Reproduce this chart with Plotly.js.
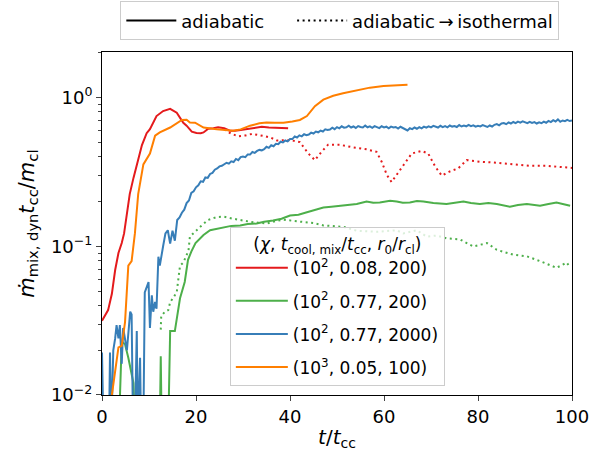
<!DOCTYPE html>
<html>
<head>
<meta charset="utf-8">
<script src="https://cdn.plot.ly/plotly-3.0.1.min.js"></script>
<style>html,body{margin:0;padding:0;background:#fff;}</style>
</head>
<body>
<div id="chart" style="width:608px;height:456px;"></div>
<script>
// ---- data ----
const seriesNames = ["(10<sup>2</sup>, 0.08, 200)", "(10<sup>2</sup>, 0.77, 200)", "(10<sup>2</sup>, 0.77, 2000)", "(10<sup>3</sup>, 0.05, 100)"];
const modeNames = ["adiabatic\u00a0\u00a0\u00a0\u00a0", "adiabatic\u2009\u2192\u2009isothermal"];

// red: chi=1e2, tcool=0.08, r0=200 (adiabatic)
const redX = [0, 1.3, 2.1, 2.8, 3.5, 4.2, 4.7, 5.9, 6.7, 8.5, 9.5, 10.2, 11.6, 13.0, 14.5, 15.9, 17.3, 18.0, 19.1, 20.1, 21.0, 21.6, 22.6, 23.7, 24.7, 26.0, 27.2, 28.3, 29.5, 31.1, 32.5, 34.0, 35.5, 36.8, 38.0, 39.6];
const redY = [0.0316, 0.0372, 0.0479, 0.0692, 0.090, 0.105, 0.122, 0.224, 0.288, 0.479, 0.575, 0.612, 0.75, 0.81, 0.838, 0.789, 0.676, 0.646, 0.589, 0.577, 0.575, 0.582, 0.617, 0.62, 0.63, 0.62, 0.597, 0.597, 0.605, 0.617, 0.625, 0.635, 0.628, 0.625, 0.62, 0.62];
// red: adiabatic -> isothermal
const redIsoX = [26.0, 26.9, 27.5, 29.0, 30.5, 31.9, 33.3, 34.7, 36.0, 37.2, 38.8, 40.4, 42.1, 43.9, 45.3, 46.7, 48.1, 50.6, 53.5, 56.3, 58.4, 59.5, 60.6, 61.6, 62.7, 64.1, 65.9, 68.0, 69.4, 70.9, 72.3, 74.0, 75.8, 77.6, 80.4, 84.0, 87.5, 91.1, 94.6, 98.9, 100];
const redIsoY = [0.61, 0.582, 0.57, 0.548, 0.555, 0.569, 0.56, 0.548, 0.535, 0.514, 0.516, 0.514, 0.501, 0.42, 0.379, 0.431, 0.481, 0.481, 0.461, 0.448, 0.431, 0.37, 0.302, 0.27, 0.302, 0.352, 0.42, 0.437, 0.42, 0.343, 0.298, 0.318, 0.334, 0.379, 0.37, 0.364, 0.356, 0.347, 0.347, 0.337, 0.336];

// green: chi=1e2, tcool=0.77, r0=200 (adiabatic)
const greenX = [3.6, 4.2, 4.9, 5.6, 6.7, 7.0, 12.3, 12.5, 12.7, 14.1, 14.5, 15.5, 16.6, 17.6, 18.3, 19.0, 19.9, 21.6, 23.0, 24.5, 25.8, 27.5, 29.4, 31.0, 32.9, 34.5, 36.4, 38.2, 40.0, 41.8, 43.6, 45.5, 47.1, 48.8, 50.6, 52.4, 54.2, 56.3, 57.7, 59.1, 61.3, 62.7, 64.0, 65.5, 67.0, 68.4, 70.5, 73.3, 75.0, 76.9, 78.5, 80.4, 82.2, 84.0, 86.8, 88.5, 90.4, 93.2, 95.0, 96.7, 99.6];
const greenY = [0.006, 0.0229, 0.0219, 0.0178, 0.012, 0.006, 0.006, 0.0182, 0.006, 0.006, 0.0269, 0.0269, 0.0447, 0.0575, 0.081, 0.092, 0.105, 0.119, 0.128, 0.131, 0.135, 0.137, 0.138, 0.141, 0.142, 0.146, 0.149, 0.153, 0.161, 0.163, 0.169, 0.176, 0.182, 0.184, 0.187, 0.19, 0.192, 0.2, 0.196, 0.197, 0.202, 0.2, 0.196, 0.197, 0.201, 0.2, 0.195, 0.192, 0.196, 0.2, 0.195, 0.192, 0.195, 0.192, 0.184, 0.189, 0.192, 0.187, 0.192, 0.197, 0.187];
// green: adiabatic -> isothermal
const greenIsoX = [12.5, 12.6, 13.4, 14.1, 14.5, 15.9, 16.6, 17.3, 18.4, 18.7, 20.9, 22.5, 24.4, 26.0, 27.9, 29.8, 31.5, 33.2, 35.0, 36.8, 38.6, 40.7, 42.8, 45.0, 47.1, 49.2, 51.3, 54.2, 56.3, 58.4, 61.3, 62.7, 64.1, 67.0, 69.1, 71.2, 73.3, 76.2, 77.6, 79.0, 81.9, 84.0, 87.5, 90.4, 93.2, 96.7, 98.9, 99.6];
const greenIsoY = [0.0275, 0.034, 0.0363, 0.0372, 0.042, 0.049, 0.074, 0.0776, 0.0933, 0.116, 0.135, 0.15, 0.157, 0.158, 0.153, 0.149, 0.146, 0.144, 0.142, 0.147, 0.151, 0.148, 0.146, 0.143, 0.138, 0.137, 0.135, 0.127, 0.126, 0.125, 0.127, 0.128, 0.122, 0.128, 0.116, 0.118, 0.113, 0.111, 0.105, 0.0995, 0.105, 0.0946, 0.0877, 0.0855, 0.0794, 0.0716, 0.0776, 0.0716];

// blue: chi=1e2, tcool=0.77, r0=2000 (adiabatic)
const blueX = [0, 0.3, 1.5, 1.7, 2.0, 2.4, 2.8, 3.1, 3.5, 3.8, 4.2, 4.5, 5.3, 6.0, 6.3, 6.6, 7.0, 7.4, 7.6, 8.1, 8.3, 8.8, 9.1, 9.9, 10.2, 10.6, 10.9, 11.3, 11.6, 12.0, 12.3, 12.7,
  13.0, 13.5, 14.0, 14.5, 15.0, 15.5, 16.0, 16.5, 17.0, 17.5, 18.0, 18.5, 19.0, 19.5, 20.0, 20.5, 21.0, 21.5, 22.0, 22.5, 23.0, 23.5, 24.0, 24.5, 25.0, 25.5, 26.0, 26.5, 27.0, 27.5, 28.0, 28.5, 29.0, 29.5, 30.0, 30.5, 31.0, 31.5, 32.0, 32.5, 33.0, 33.5, 34.0, 34.5, 35.0, 35.5, 36.0, 36.5, 37.0, 37.5, 38.0, 38.5, 39.0, 39.5, 40.0,
  40.5, 41.0, 41.5, 42.0, 42.5, 43.0, 43.5, 44.0, 44.5, 45.0, 45.5, 46.0, 46.5, 47.0, 47.5, 48.0, 48.5, 49.0, 49.5, 50.0, 50.5, 51.0, 51.5, 52.0, 52.5, 53.0, 53.5, 54.0, 54.5, 55.0, 55.5, 56.0, 56.5, 57.0, 57.5, 58.0, 58.5, 59.0, 59.5, 60.0, 60.5, 61.0, 61.5, 62.0, 62.5, 63.0, 63.5, 64.0, 64.5, 65.0, 65.5, 66.0, 66.5, 67.0, 67.5, 68.0, 68.5, 69.0, 69.5, 70.0,
  70.5, 71.0, 71.5, 72.0, 72.5, 73.0, 73.5, 74.0, 74.5, 75.0, 75.5, 76.0, 76.5, 77.0, 77.5, 78.0, 78.5, 79.0, 79.5, 80.0, 80.5, 81.0, 81.5, 82.0, 82.5, 83.0, 83.5, 84.0, 84.5, 85.0, 85.5, 86.0, 86.5, 87.0, 87.5, 88.0, 88.5, 89.0, 89.5, 90.0, 90.5, 91.0, 91.5, 92.0, 92.5, 93.0, 93.5, 94.0, 94.5, 95.0, 95.5, 96.0, 96.5, 97.0, 97.5, 98.0, 98.5, 99.0, 99.5, 100.0];
const blueY = [0.0193, 0.006, 0.006, 0.0193, 0.006, 0.02, 0.024, 0.0295, 0.024, 0.0295, 0.0162, 0.0282, 0.02, 0.0363, 0.0347, 0.006, 0.006, 0.0269, 0.006, 0.0178, 0.006, 0.006, 0.049, 0.0575, 0.0282, 0.0468, 0.0363, 0.0422, 0.038, 0.085, 0.074, 0.09,
  0.100, 0.122, 0.128, 0.104, 0.127, 0.109, 0.150, 0.156, 0.168, 0.176, 0.195, 0.203, 0.228, 0.234, 0.249, 0.257, 0.273, 0.271, 0.290, 0.288, 0.306, 0.311, 0.327, 0.333, 0.344, 0.347, 0.355, 0.364, 0.359, 0.372, 0.368, 0.386, 0.379, 0.397, 0.401, 0.397, 0.414, 0.413, 0.430, 0.424, 0.437, 0.444, 0.441, 0.449, 0.466, 0.458, 0.477, 0.470, 0.488, 0.485, 0.504, 0.498, 0.514, 0.507, 0.526, 0.525, 0.547,
  0.538, 0.556, 0.548, 0.566, 0.558, 0.563, 0.580, 0.572, 0.590, 0.583, 0.598, 0.590, 0.611, 0.604, 0.609, 0.626, 0.612, 0.632, 0.620, 0.640, 0.626, 0.630, 0.645, 0.628, 0.638, 0.624, 0.642, 0.633, 0.628, 0.647, 0.630, 0.639, 0.625, 0.641, 0.634, 0.622, 0.640, 0.629, 0.636, 0.620, 0.637, 0.628, 0.633, 0.618, 0.635, 0.624, 0.612, 0.600, 0.621, 0.612, 0.628, 0.616, 0.632, 0.620, 0.637, 0.626, 0.640, 0.630, 0.644, 0.633,
  0.628, 0.645, 0.632, 0.641, 0.630, 0.648, 0.637, 0.643, 0.633, 0.652, 0.638, 0.647, 0.640, 0.655, 0.642, 0.650, 0.636, 0.645, 0.639, 0.652, 0.641, 0.633, 0.648, 0.638, 0.655, 0.662, 0.650, 0.668, 0.673, 0.661, 0.679, 0.668, 0.684, 0.672, 0.688, 0.678, 0.690, 0.681, 0.672, 0.686, 0.675, 0.683, 0.668, 0.680, 0.671, 0.688, 0.676, 0.695, 0.683, 0.704, 0.690, 0.712, 0.686, 0.700, 0.692, 0.706, 0.694, 0.701, 0.688, 0.697];

// orange: chi=1e3, tcool=0.05, r0=100 (adiabatic)
const orangeX = [2.1, 2.8, 3.5, 4.2, 4.9, 5.6, 6.3, 7.0, 7.7, 8.8, 10.2, 11.3, 12.3, 14.5, 16.2, 17.0, 18.0, 18.7, 19.8, 21.6, 24.4, 26.5, 27.9, 29.5, 31.5, 33.5, 35.0, 36.8, 38.6, 40.5, 42.1, 43.6, 45.3, 47.1, 49.2, 51.3, 54.2, 57.0, 59.9, 62.7, 65.0];
const orangeY = [0.01, 0.0145, 0.0209, 0.0214, 0.0309, 0.0741, 0.0794, 0.122, 0.224, 0.355, 0.42, 0.553, 0.582, 0.628, 0.676, 0.706, 0.708, 0.678, 0.676, 0.628, 0.612, 0.60, 0.597, 0.61, 0.646, 0.67, 0.678, 0.676, 0.676, 0.69, 0.706, 0.75, 0.873, 0.966, 1.026, 1.067, 1.112, 1.164, 1.194, 1.213, 1.219];

// axis ticks
const yTickVals = [0.01, 0.1, 1];
const yTickText = ["10<sup>\u22122</sup>", "10<sup>\u22121</sup>", "10<sup>0</sup>"];
const yMinorVals = [0.02, 0.03, 0.04, 0.05, 0.06, 0.07, 0.08, 0.09, 0.2, 0.3, 0.4, 0.5, 0.6, 0.7, 0.8, 0.9, 2];
const xTickVals = [0, 20, 40, 60, 80, 100];

// ---- styles ----
const C = {red: "#e41a1c", green: "#4daf4a", blue: "#377eb8", orange: "#ff7f00"};
const LW = 2;
const DOT = "2px,3.5px";
const FONT = "DejaVu Sans, Liberation Sans, sans-serif";

function solid(x, y, color, name, grp) {
  return {x: x, y: y, type: "scatter", mode: "lines", name: name, legend: "legend2", legendgroup: grp,
          line: {color: color, width: LW}, hoverinfo: "skip"};
}
function dotted(x, y, color) {
  return {x: x, y: y, type: "scatter", mode: "lines", showlegend: false,
          line: {color: color, width: LW, dash: DOT}, hoverinfo: "skip"};
}

const traces = [
  solid(redX, redY, C.red, seriesNames[0], "g1"),
  dotted(redIsoX, redIsoY, C.red),
  solid(greenX, greenY, C.green, seriesNames[1], "g2"),
  dotted(greenIsoX, greenIsoY, C.green),
  solid(blueX, blueY, C.blue, seriesNames[2], "g3"),
  solid(orangeX, orangeY, C.orange, seriesNames[3], "g4"),
  {x: [null], y: [null], type: "scatter", mode: "lines", name: modeNames[0], legend: "legend",
   line: {color: "#000", width: LW}},
  {x: [null], y: [null], type: "scatter", mode: "lines", name: modeNames[1], legend: "legend",
   line: {color: "#000", width: LW, dash: DOT}}
];

const layout = {
  width: 608, height: 456,
  margin: {l: 102, r: 36, t: 45, b: 61},
  paper_bgcolor: "#fff", plot_bgcolor: "#fff",
  font: {family: FONT, size: 18, color: "#000"},
  xaxis: {
    range: [0, 100], tickvals: xTickVals, ticks: "outside", ticklen: 5, tickwidth: 1,
    showline: true, mirror: true, linecolor: "#000", linewidth: 1, showgrid: false, zeroline: false,
    tickfont: {size: 18},
    title: {text: "<i>t</i>/<i>t</i><sub>cc</sub>", font: {size: 20}, standoff: 4}
  },
  yaxis: {
    type: "log", range: [-2, 0.303], tickvals: yTickVals, ticktext: yTickText,
    ticks: "outside", ticklen: 5, tickwidth: 1,
    minor: {tickvals: yMinorVals, ticks: "outside", ticklen: 3, tickwidth: 1, showgrid: false},
    showline: true, mirror: true, linecolor: "#000", linewidth: 1, showgrid: false, zeroline: false,
    tickfont: {size: 18},
    title: {text: "<i>\u1E41</i><sub>mix, dyn</sub><i>t</i><sub>cc</sub>/<i>m</i><sub>cl</sub>", font: {size: 21}, standoff: 10}
  },
  showlegend: true,
  legend: {
    orientation: "h", x: 0.506, xanchor: "center", yref: "container", y: 0.997, yanchor: "top",
    bgcolor: "rgba(255,255,255,0.8)", bordercolor: "#cccccc", borderwidth: 1,
    font: {size: 18}, itemwidth: 50, tracegroupgap: 0
  },
  legend2: {
    x: 0.272, xanchor: "left", y: 0.49, yanchor: "top",
    bgcolor: "rgba(255,255,255,0.8)", bordercolor: "#cccccc", borderwidth: 1,
    font: {size: 17}, itemwidth: 52, tracegroupgap: 8,
    title: {text: "(<i>\u03C7</i>, <i>t</i><sub>cool, mix</sub>/<i>t</i><sub>cc</sub>, <i>r</i><sub>0</sub>/<i>r</i><sub>cl</sub>)", side: "top center", font: {size: 17}}
  }
};

Plotly.newPlot("chart", traces, layout, {staticPlot: true, displayModeBar: false});
</script>
</body>
</html>
